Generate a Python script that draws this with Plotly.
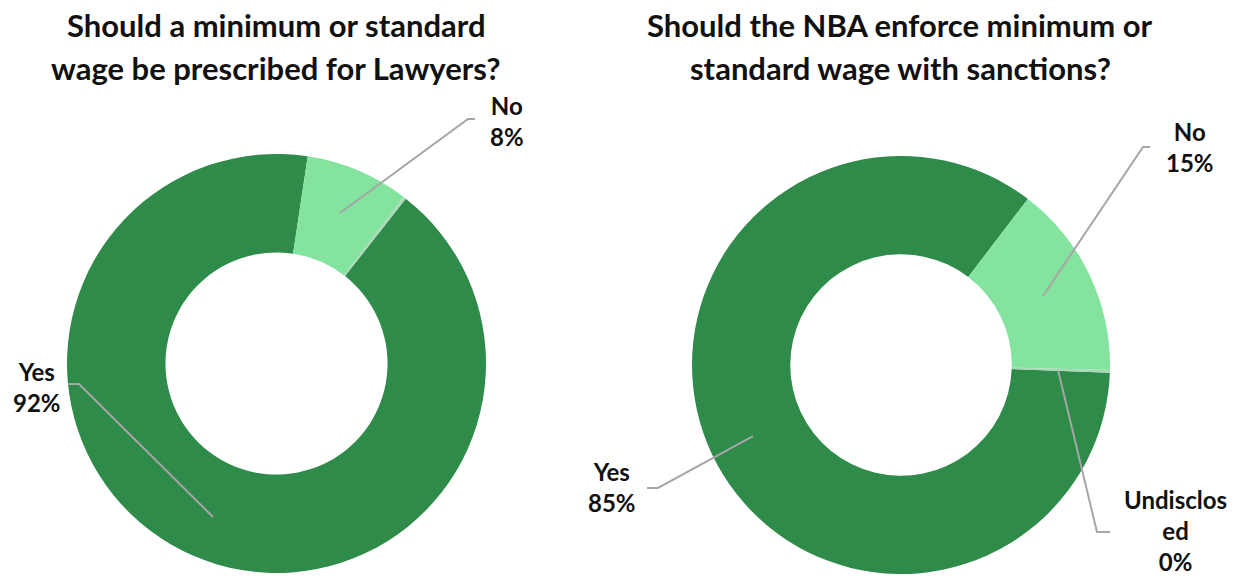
import plotly.graph_objects as go

# ---- data ----
categories = ["Yes", "No", "Undisclosed"]
lawyers_values = [91.8, 8.0, 0.2]
nba_values = [84.8, 15.0, 0.2]
lawyers_title = ["Should a minimum or standard", "wage be prescribed for Lawyers?"]
nba_title = ["Should the NBA enforce minimum or", "standard wage with sanctions?"]
lawyers_labels = ["Yes<br>92%", "No<br>8%"]
nba_labels = ["Yes<br>85%", "No<br>15%", "Undisclos<br>ed<br>0%"]

W, H = 1246, 578
DARK = "#2E8B4A"
LIGHT = "#85E3A0"
UND = "#A8D8B4"
FONT = "Lato"

def px(x):
    return x / W

def py(y):
    return 1 - y / H

fig = go.Figure()

fig.add_trace(go.Pie(
    labels=categories, values=lawyers_values, hole=0.53, sort=False,
    direction="clockwise", rotation=38.1, textinfo="none", hoverinfo="skip",
    marker=dict(colors=[DARK, LIGHT, UND], line=dict(width=0)),
    domain=dict(x=[px(276.5 - 209.5), px(276.5 + 209.5)], y=[py(363.5 + 209.5), py(363.5 - 209.5)]),
    showlegend=False,
))
fig.add_trace(go.Pie(
    labels=categories, values=nba_values, hole=0.53, sort=False,
    direction="clockwise", rotation=92.1, textinfo="none", hoverinfo="skip",
    marker=dict(colors=[DARK, LIGHT, UND], line=dict(width=0)),
    domain=dict(x=[px(901 - 209), px(901 + 209)], y=[py(365 + 209), py(365 - 209)]),
    showlegend=False,
))

annotations = []
# titles (one annotation per line for line-spacing control)
for lines, cx in ((lawyers_title, 276), (nba_title, 900)):
    for i, line in enumerate(lines):
        annotations.append(dict(text="<b>" + line + "</b>", x=px(cx), y=py(25 + 43 * i),
                                xref="paper", yref="paper", showarrow=False,
                                font=dict(family=FONT, size=31, color="#111"),
                                xanchor="center", yanchor="middle"))

label_pos = [
    (lawyers_labels[0], 37, 387),
    (lawyers_labels[1], 507, 121),
    (nba_labels[0], 612, 487),
    (nba_labels[1], 1190, 147),
    (nba_labels[2], 1175, 530),
]
for t, x, y in label_pos:
    annotations.append(dict(text="<b>" + t + "</b>", x=px(x), y=py(y), xref="paper", yref="paper",
                            showarrow=False, font=dict(family=FONT, size=24, color="#111"),
                            xanchor="center", yanchor="middle"))

leaders = [
    [(68, 384), (79, 384), (213, 517)],
    [(475, 119), (468, 119), (340, 213)],
    [(647, 488), (658, 488), (753, 436)],
    [(1150, 147), (1143, 147), (1043, 296)],
    [(1110, 532), (1097, 532), (1058, 370)],
]
shapes = []
for pts in leaders:
    path = "M " + " L ".join(f"{px(a):.5f},{py(b):.5f}" for a, b in pts)
    shapes.append(dict(type="path", path=path, xref="paper", yref="paper",
                       line=dict(color="#A6A6A6", width=2)))

fig.update_layout(
    width=W, height=H, margin=dict(l=0, r=0, t=0, b=0),
    paper_bgcolor="white", plot_bgcolor="white",
    annotations=annotations, shapes=shapes,
)

fig.write_html("out.html")
